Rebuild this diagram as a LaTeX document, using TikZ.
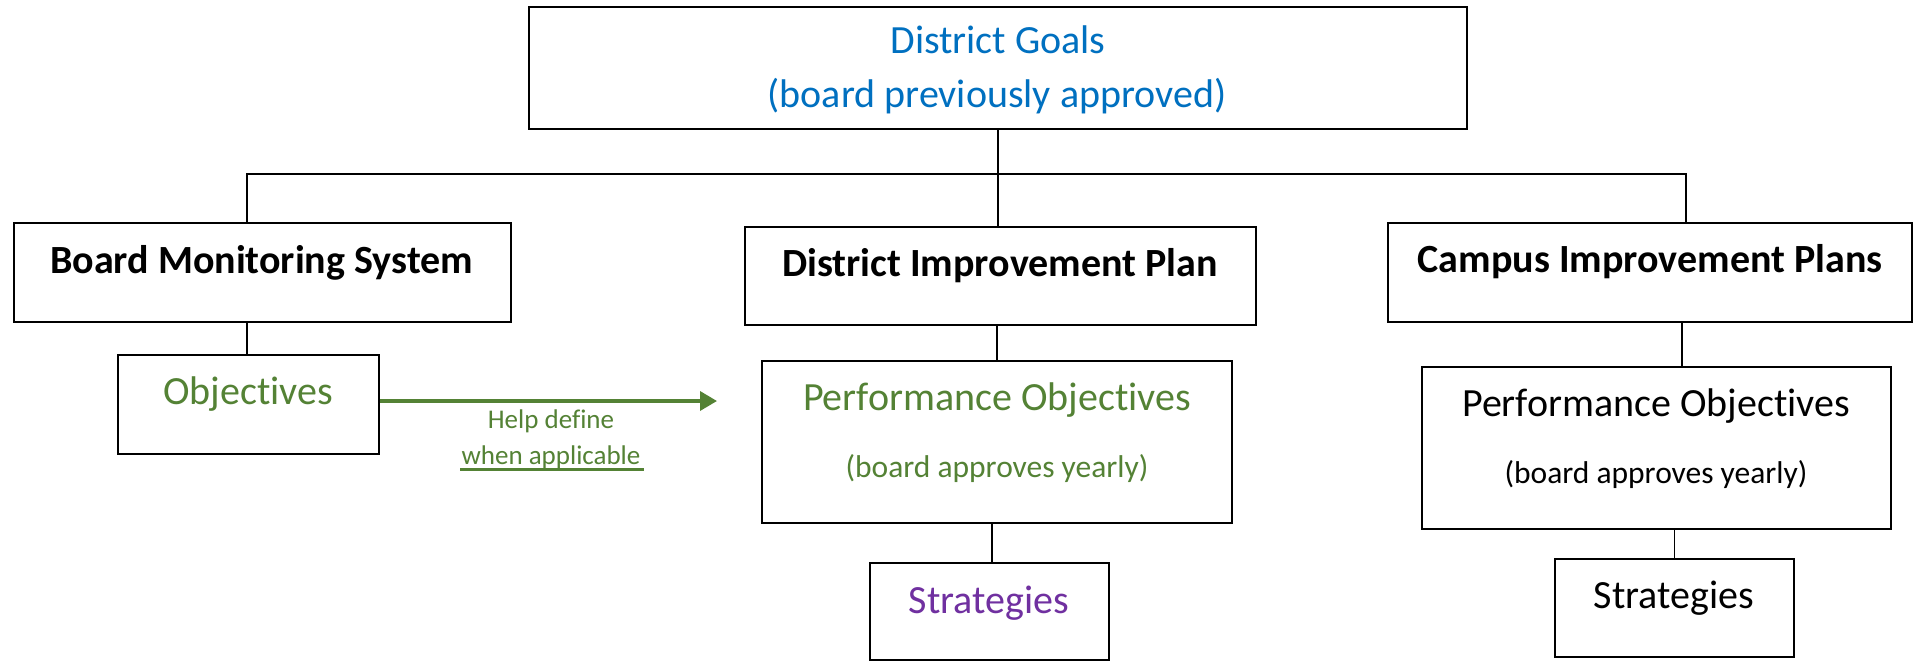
\documentclass[tikz,border=0pt]{standalone}
\usepackage{fontspec}
\setmainfont{Carlito}[Ligatures=NoCommon]
\usetikzlibrary{arrows.meta,calc}
\definecolor{dgblue}{RGB}{0,112,192}
\definecolor{dggreen}{RGB}{84,130,53}
\definecolor{dgpurple}{RGB}{112,48,160}
\newcommand{\tiword}{Objec\kern0pt t\kern0pt ives}
\tikzset{
  boxst/.style={draw=black, line width=2pt, rectangle, inner sep=0pt, fill=white},
  link/.style={draw=black, line width=1.5pt},
  txt/.style={anchor=base, inner sep=0pt, font=\fontsize{40}{48}\selectfont},
  btxt/.style={anchor=base, inner sep=0pt, font=\fontsize{40}{48}\selectfont\bfseries},
  stxt/.style={anchor=base, inner sep=0pt, font=\fontsize{31.5}{38}\selectfont},
  htxt/.style={anchor=base, inner sep=0pt, font=\fontsize{27}{32}\selectfont},
  garrow/.style={draw=dggreen, line width=3.5pt, -{Triangle[length=17pt,width=19pt]}},
}
\begin{document}
\begin{tikzpicture}[x=1pt,y=-1pt]
\useasboundingbox (0,0) rectangle (1919,661);
\fill[white] (0,0) rectangle (1919,661);

% boxes
\node[boxst, minimum width=938pt, minimum height=122pt] (goal) at (998,68) {};
\node[boxst, minimum width=497pt, minimum height=99pt] (bms) at (262,272.5) {};
\node[boxst, minimum width=511pt, minimum height=98pt] (dip) at (1000.5,276) {};
\node[boxst, minimum width=524pt, minimum height=99pt] (cip) at (1650,272.5) {};
\node[boxst, minimum width=261pt, minimum height=99pt] (obj) at (248.5,404.5) {};
\node[boxst, minimum width=470pt, minimum height=162pt] (dpo) at (997,442) {};
\node[boxst, minimum width=469pt, minimum height=162pt] (cpo) at (1656.5,448) {};
\node[boxst, minimum width=239pt, minimum height=97pt] (dst) at (989.5,611.5) {};
\node[boxst, minimum width=239pt, minimum height=98pt] (cst) at (1674.5,608) {};

% connectors
\coordinate (busL) at (247,174);
\coordinate (busR) at (1686,174);
\draw[link] (goal.south) -- (goal.south |- dip.north);
\draw[link] (bms.north -| busL) -- (busL) -- (busR) -- (cip.north -| busR);
\draw[link] (bms.south -| busL) -- (obj.north -| busL);
\draw[link] (dpo.north |- dip.south) -- (dpo.north);
\draw[link] ($(dpo.south)+(-5,0)$) -- ($(dpo.south |- dst.north)+(-5,0)$);
\draw[link] ($(cpo.south |- cip.south)+(25.5,0)$) -- ($(cpo.north)+(25.5,0)$);
\draw[link] (cst.north |- cpo.south) -- (cst.north);

% arrow
\coordinate (arrowend) at (717,401);
\draw[garrow] (obj.east |- arrowend) -- (arrowend);

% texts
\node[txt, text=dgblue] (t1) at (998,54) {District Goals};
\node[txt, text=dgblue] (t2) at (997,107) {(board previously approved)};
\node[btxt] (t3) at (261.5,273) {Board Monitoring System};
\node[btxt] (t4) at (1000,276) {District Improvement Plan};
\node[btxt] (t5) at (1650,272) {Campus Improvement Plans};
\node[txt, text=dggreen] (t6) at (248,404) {\tiword};
\node[htxt, text=dggreen] (help) at (551,428) {Help define};
\node[htxt, text=dggreen] (when) at (551,464) {when applicable};
\draw[dggreen, line width=3.5pt] ($(when.base west)+(-1,5.5)$) -- ($(when.base east)+(3,5.5)$);
\node[txt, text=dggreen] (t7) at (997,410) {Performance \tiword};
\node[stxt, text=dggreen] (t8) at (997,477) {(board approves yearly)};
\node[txt] (t9) at (1656,416) {Performance \tiword};
\node[stxt] (t10) at (1656,483) {(board approves yearly)};
\node[txt, text=dgpurple] (t11) at (989,613) {Strategies};
\node[txt] (t12) at (1674,608) {Strategies};
\end{tikzpicture}
\end{document}
